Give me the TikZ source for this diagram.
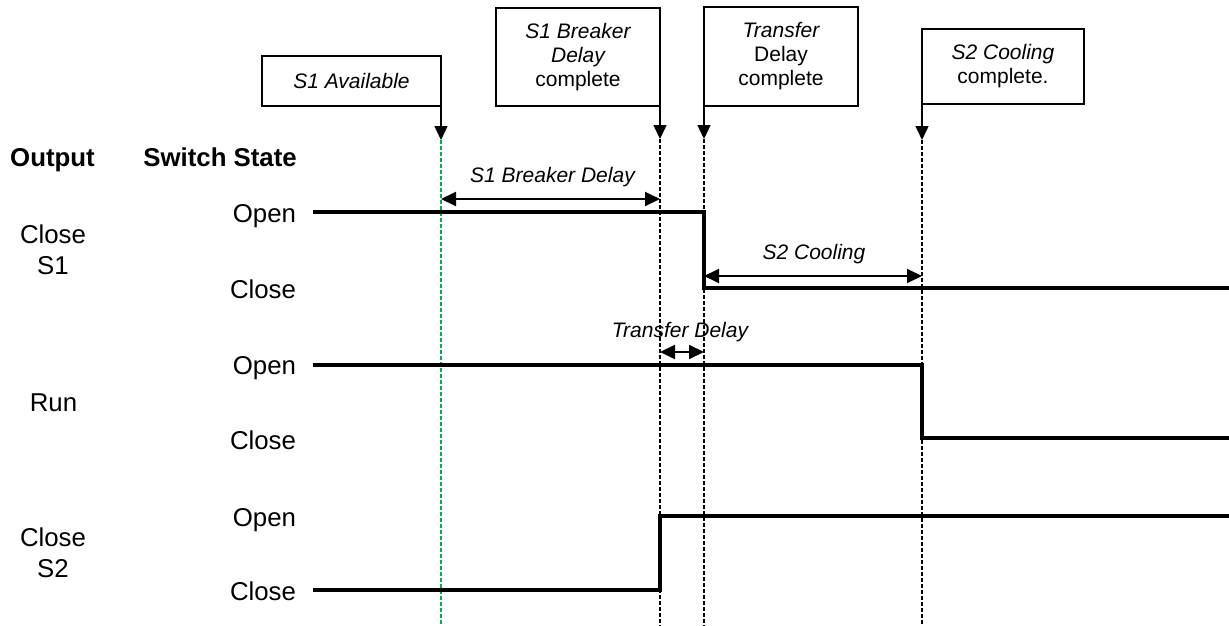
\documentclass[tikz,border=0pt]{standalone}
\usepackage{fontspec}
\setmainfont{Liberation Sans}
\usetikzlibrary{arrows.meta}
\definecolor{evgreen}{RGB}{0,176,80}
\begin{document}
\begin{tikzpicture}[x=1pt,y=-1pt,
  big/.style={font=\fontsize{25.8}{31}\selectfont, inner sep=0pt, outer sep=0pt},
  head/.style={font=\fontsize{25.8}{31}\selectfont\bfseries, inner sep=0pt},
  small/.style={font=\fontsize{21}{24}\selectfont\itshape, inner sep=0pt},
  callout/.style={draw, line width=1.5pt, align=center, inner sep=0pt, outer sep=0pt,
    font=\fontsize{21}{24}\selectfont},
  evarrow/.style={line width=1.5pt, -{Triangle[length=14pt,width=13pt]}},
  evline/.style={line width=1.2pt, dash pattern=on 4pt off 2pt},
  wave/.style={line width=4pt, line join=miter},
  dimarrow/.style={line width=2pt, {Triangle[length=15pt,width=14pt]}-{Triangle[length=15pt,width=14pt]}}
]
\useasboundingbox (0,0) rectangle (1229,626);

% event positions
\coordinate (e1t) at (441,140);  \coordinate (e1b) at (441,626);
\coordinate (e2t) at (660,139);  \coordinate (e2b) at (660,626);
\coordinate (e3t) at (704,139);  \coordinate (e3b) at (704,626);
\coordinate (e4t) at (922,140);  \coordinate (e4b) at (922,626);

% callouts
\node[callout, minimum width=179pt, minimum height=50pt, anchor=south east] (ca) at (441,106)
  {\itshape S1 Available};
\node[callout, minimum width=164pt, minimum height=98pt, anchor=south east] (cb) at (660,106)
  {\itshape S1 Breaker\\ \itshape Delay\\ complete};
\node[callout, minimum width=154pt, minimum height=99pt, anchor=south west] (cc) at (704,106)
  {\itshape Transfer\\ Delay\\ complete};
\node[callout, minimum width=162pt, minimum height=75pt, anchor=south west] (cd) at (922,104)
  {\itshape S2 Cooling\\ complete.};

% event arrows
\draw[evarrow] ([yshift=14pt]ca.south east) -- (e1t);
\draw[evarrow] ([yshift=14pt]cb.south east) -- (e2t);
\draw[evarrow] ([yshift=14pt]cc.south west) -- (e3t);
\draw[evarrow] ([yshift=14pt]cd.south west) -- (e4t);

% event lines
\draw[evline, evgreen] (e1t) -- (e1b);
\draw[evline] (e2t) -- (e2b);
\draw[evline] (e3t) -- (e3b);
\draw[evline] (e4t) -- (e4b);

% headers
\node[head, anchor=base west] (hout) at (10,166) {Output};
\node[head, anchor=base east] (hsw) at (297,166) {Switch State};

% output labels
\node[big, align=center] (o1) at (53,250) {Close\\S1};
\node[big, anchor=base] (o2) at (53.5,411) {Run};
\node[big, align=center] (o3) at (53,552.5) {Close\\S2};

% state labels
\node[big, anchor=base east] (s1o) at (296,222) {Open};
\node[big, anchor=base east] (s1c) at (296,298) {Close};
\node[big, anchor=base east] (s2o) at (296,374) {Open};
\node[big, anchor=base east] (s2c) at (296,449) {Close};
\node[big, anchor=base east] (s3o) at (296,526) {Open};
\node[big, anchor=base east] (s3c) at (296,600) {Close};

% waveforms
\draw[wave] (313,212) -- (704,212) -- (704,288) -- (1229,288);
\draw[wave] (313,365) -- (922,365) -- (922,438) -- (1229,438);
\draw[wave] (313,590) -- (660,590) -- (660,516) -- (1229,516);

% dimension arrows
\draw[dimarrow] (441,199) -- (660,199);
\node[small, anchor=base] (l1) at (552.5,182.5) {S1 Breaker Delay};
\draw[dimarrow] (704,276) -- (922,276);
\node[small, anchor=base] (l2) at (814,259.5) {S2 Cooling};
\draw[dimarrow] (660,352) -- (704,352);
\node[small, anchor=base] (l3) at (680,337.5) {Transfer Delay};
\end{tikzpicture}
\end{document}
